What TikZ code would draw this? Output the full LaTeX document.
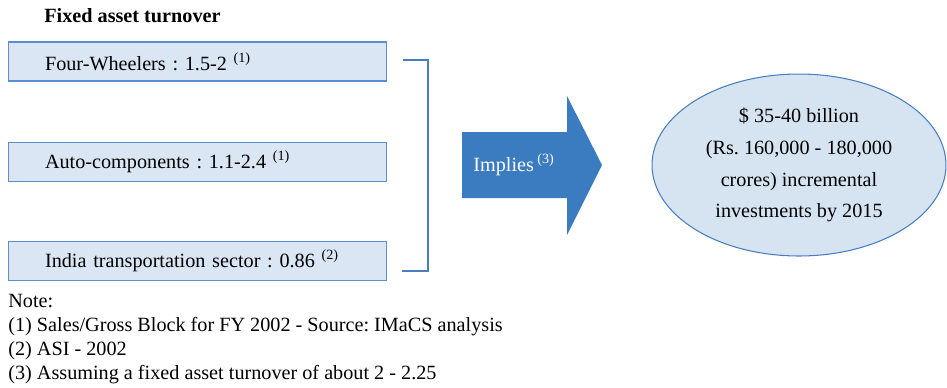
\documentclass[tikz,border=0pt]{standalone}
\usepackage{fontspec}
\setmainfont{Liberation Serif}
\usetikzlibrary{positioning,shapes.geometric}
\frenchspacing

\definecolor{boxfill}{RGB}{218,230,243}
\definecolor{boxline}{RGB}{91,143,208}
\definecolor{arrowblue}{RGB}{59,124,192}
\definecolor{ovalfill}{RGB}{214,228,242}
\definecolor{ovalline}{RGB}{72,126,193}

\begin{document}
\begin{tikzpicture}[x=0.02cm,y=-0.02cm,
		font=\fontsize{11.5}{13}\selectfont,
		ratio box/.style={
				draw=boxline, fill=boxfill, line width=0.6pt,
				minimum width=7.58cm, minimum height=0.78cm,
				text width=6.1cm, inner xsep=0.74cm, align=left,
			},
		note/.style={anchor=base west, inner sep=0pt},
	]
	\useasboundingbox (0,0) rectangle (947,387);
	%
	\node[anchor=base west, inner sep=0pt, font=\fontsize{11.5}{13}\selectfont\bfseries] (title) at (44,22) {Fixed asset turnover};
	\node[ratio box] (four) at (197.5,61.5) {Four-Wheelers : 1.5-2 \textsuperscript{(1)}};
	\node[ratio box, below=1.2cm of four] (auto) {Auto-components : 1.1-2.4 \textsuperscript{(1)}};
	\node[ratio box, below=1.18cm of auto] (india) {India transportation sector : 0.86 \textsuperscript{(2)}};
	%
	\coordinate (b1) at (403,60);
	\coordinate (b2) at (402,271);
	\draw[ovalline, line width=0.8pt] (b1) -| (428,271) -- (b2);
	%
	\fill[arrowblue] (462,132) -- (567,132) -- (567,96) -- (602,165)
		-- (567,235) -- (567,198) -- (462,198) -- cycle;
	\node[white] (implies) at (514,165) {Implies\,\textsuperscript{(3)}};
	%
	\node[ellipse, draw=ovalline, fill=ovalfill, line width=0.6pt,
		minimum width=5.88cm, minimum height=3.64cm, inner sep=0pt,
		align=center, font=\fontsize{11.5}{18.1}\selectfont] (invest) at (799,165)
		{\$ 35-40 billion\\(Rs. 160,000 - 180,000\\crores) incremental\\investments by 2015};
	%
	\node[note] (n0) at (8,307) {Note:};
	\node[note] (n1) at (8,331) {(1) Sales/Gross Block for FY 2002 - Source: IMaCS analysis};
	\node[note] (n2) at (8,355) {(2) ASI - 2002};
	\node[note] (n3) at (8,379) {(3) Assuming a fixed asset turnover of about 2 - 2.25};
\end{tikzpicture}
\end{document}
